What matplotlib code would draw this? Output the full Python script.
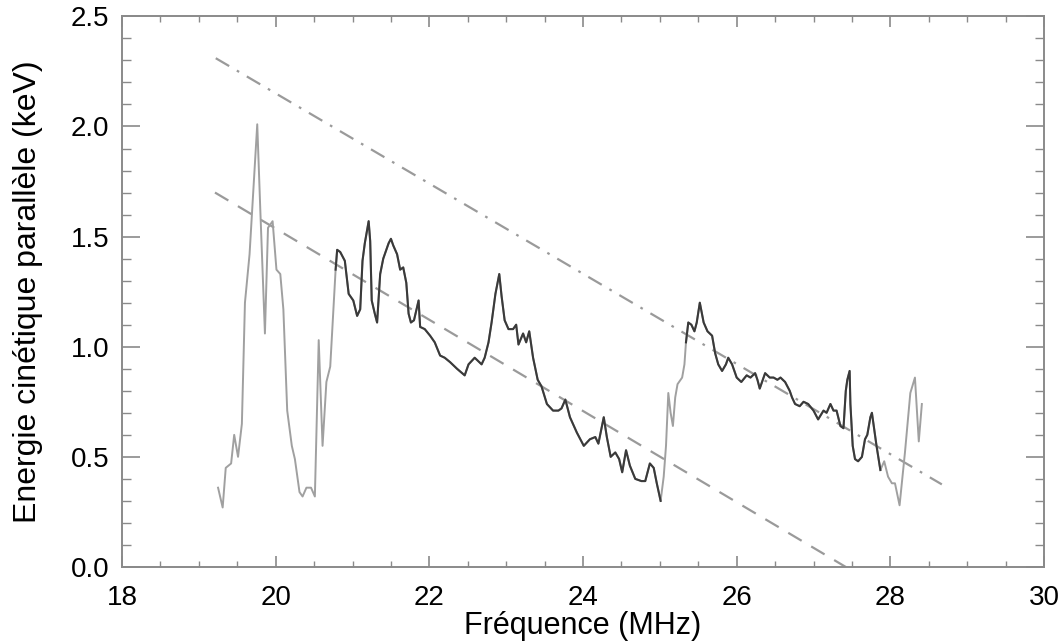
import numpy as np
import matplotlib
matplotlib.use("Agg")
import matplotlib.pyplot as plt
from matplotlib.ticker import MultipleLocator

plt.rcParams['font.family'] = ['Liberation Sans', 'DejaVu Sans']

# frequency (MHz) and parallel kinetic energy (keV)
freq = [19.25, 19.31, 19.35, 19.42, 19.46, 19.51, 19.56, 19.60, 19.66, 19.76,
        19.80, 19.86, 19.90, 19.96, 20.01, 20.06, 20.10, 20.15, 20.21, 20.25,
        20.31, 20.35, 20.40, 20.46, 20.51, 20.56, 20.61, 20.66, 20.71, 20.78,
        20.80, 20.84, 20.90, 20.95, 21.01, 21.06, 21.10, 21.13, 21.16, 21.21,
        21.23, 21.25, 21.29, 21.32, 21.36, 21.40, 21.47, 21.50, 21.53, 21.58,
        21.62, 21.66, 21.70, 21.73, 21.76, 21.80, 21.86, 21.88, 21.94, 22.01,
        22.07, 22.14, 22.20, 22.27, 22.36, 22.46, 22.51, 22.59, 22.68, 22.72,
        22.77, 22.81, 22.86, 22.91, 22.94, 22.98, 23.03, 23.09, 23.13, 23.16,
        23.22, 23.26, 23.30, 23.35, 23.41, 23.46, 23.53, 23.61, 23.68, 23.72,
        23.77, 23.83, 23.92, 24.01, 24.09, 24.16, 24.20, 24.27, 24.31, 24.36,
        24.42, 24.47, 24.51, 24.56, 24.61, 24.68, 24.76, 24.81, 24.87, 24.92,
        24.96, 25.01, 25.05, 25.08, 25.11, 25.14, 25.17, 25.20, 25.23, 25.29,
        25.32, 25.34, 25.37, 25.41, 25.45, 25.48, 25.52, 25.57, 25.62, 25.68,
        25.72, 25.76, 25.81, 25.86, 25.89, 25.94, 26.00, 26.06, 26.13, 26.18,
        26.24, 26.27, 26.30, 26.37, 26.43, 26.48, 26.53, 26.57, 26.63, 26.69,
        26.72, 26.76, 26.82, 26.87, 26.93, 27.00, 27.06, 27.13, 27.17, 27.22,
        27.26, 27.30, 27.35, 27.39, 27.42, 27.44, 27.47, 27.48, 27.51, 27.54,
        27.58, 27.63, 27.67, 27.70, 27.74, 27.76, 27.78, 27.82, 27.87, 27.92,
        27.97, 28.02, 28.06, 28.12, 28.19, 28.26, 28.32, 28.37, 28.41]
energy = [0.36, 0.27, 0.45, 0.47, 0.60, 0.50, 0.65, 1.20, 1.42, 2.01,
          1.62, 1.06, 1.54, 1.57, 1.35, 1.33, 1.17, 0.71, 0.55, 0.49,
          0.34, 0.32, 0.36, 0.36, 0.32, 1.03, 0.55, 0.84, 0.91, 1.35,
          1.44, 1.43, 1.39, 1.24, 1.21, 1.14, 1.17, 1.39, 1.47, 1.57,
          1.48, 1.21, 1.15, 1.11, 1.33, 1.40, 1.47, 1.49, 1.46, 1.42,
          1.35, 1.36, 1.29, 1.15, 1.11, 1.12, 1.21, 1.09, 1.08, 1.05,
          1.02, 0.96, 0.95, 0.93, 0.90, 0.87, 0.92, 0.95, 0.92, 0.95,
          1.02, 1.11, 1.24, 1.33, 1.23, 1.12, 1.08, 1.08, 1.10, 1.01,
          1.06, 1.02, 1.07, 0.95, 0.85, 0.82, 0.74, 0.71, 0.71, 0.72,
          0.76, 0.68, 0.61, 0.55, 0.58, 0.59, 0.56, 0.68, 0.59, 0.50,
          0.52, 0.49, 0.43, 0.53, 0.46, 0.40, 0.39, 0.39, 0.47, 0.45,
          0.38, 0.30, 0.41, 0.55, 0.79, 0.70, 0.64, 0.77, 0.83, 0.86,
          0.92, 1.02, 1.11, 1.10, 1.07, 1.11, 1.20, 1.11, 1.07, 1.05,
          0.97, 0.92, 0.89, 0.92, 0.95, 0.92, 0.86, 0.84, 0.87, 0.86,
          0.88, 0.85, 0.81, 0.88, 0.86, 0.86, 0.85, 0.86, 0.84, 0.80,
          0.77, 0.74, 0.73, 0.75, 0.74, 0.71, 0.67, 0.71, 0.70, 0.74,
          0.71, 0.71, 0.64, 0.63, 0.80, 0.85, 0.89, 0.74, 0.55, 0.49,
          0.48, 0.50, 0.58, 0.60, 0.68, 0.70, 0.65, 0.55, 0.44, 0.48,
          0.41, 0.38, 0.38, 0.28, 0.52, 0.79, 0.86, 0.57, 0.74]

# frequency ranges drawn with the darker trace
dark_ranges = [(20.78, 25.01), (25.34, 27.87)]

# the two straight guide lines (end points)
dash_x = [19.21, 27.42]
dash_y = [1.70, 0.0]
dashdot_x = [19.22, 28.67]
dashdot_y = [2.31, 0.375]

freq = np.array(freq)
energy = np.array(energy)

fig = plt.figure(figsize=(10.61, 6.44), dpi=100)
ax = fig.add_axes([0.115, 0.1196, 0.869, 0.855])

ax.plot(dash_x, dash_y, color='#9a9a9a', lw=1.6, dashes=(7, 5))
ax.plot(dashdot_x, dashdot_y, color='#9a9a9a', lw=1.6, dashes=(7, 4, 1.2, 4))

ax.plot(freq, energy, color='#a0a0a0', lw=1.4)
for lo, hi in dark_ranges:
    m = (freq >= lo) & (freq <= hi)
    ax.plot(freq[m], energy[m], color='#3a3a3a', lw=1.5)

ax.set_xlim(18, 30)
ax.set_ylim(0, 2.5)
ax.xaxis.set_major_locator(MultipleLocator(2))
ax.xaxis.set_minor_locator(MultipleLocator(0.5))
ax.yaxis.set_major_locator(MultipleLocator(0.5))
ax.yaxis.set_minor_locator(MultipleLocator(0.1))
ax.yaxis.set_major_formatter(matplotlib.ticker.FormatStrFormatter('%.1f'))

for s in ax.spines.values():
    s.set_color('#8a8a8a')
    s.set_linewidth(1.4)

ax.tick_params(axis='both', which='both', direction='in', top=True, right=True,
               colors='#8a8a8a', labelcolor='black', labelsize=20)
ax.tick_params(axis='x', which='major', length=8, width=1.2, pad=13)
ax.tick_params(axis='x', which='minor', length=4, width=1.0)
ax.tick_params(axis='y', which='major', length=13, width=1.2, pad=9)
ax.tick_params(axis='y', which='minor', length=6.5, width=1.0)

ax.set_xlabel('Fréquence (MHz)', fontsize=22, labelpad=0)
ax.set_ylabel('Energie cinétique parallèle (keV)', fontsize=23, labelpad=20)

fig.savefig('out.png', dpi=100)
